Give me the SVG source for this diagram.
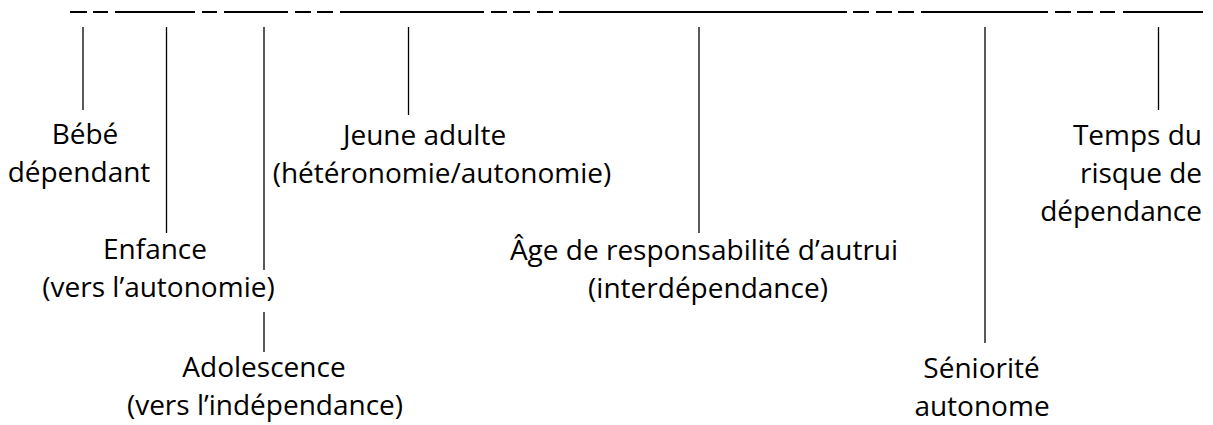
<svg xmlns="http://www.w3.org/2000/svg" width="1213" height="425" viewBox="0 0 1213 425">
<style>
.lbl{font-family:"Open Sans","Noto Sans","Liberation Sans",sans-serif;font-size:28px;fill:#000;text-anchor:middle}
.end{text-anchor:end}
.tick{stroke:#000;stroke-width:1.3;fill:none}
.axis{stroke:#000;stroke-width:2;fill:none}
</style>
<rect width="1213" height="425" fill="#fff"/>
<g id="timeline" class="axis">
<line x1="70" y1="12" x2="87" y2="12"/>
<line x1="93" y1="12" x2="108" y2="12"/>
<line x1="115" y1="12" x2="195" y2="12"/>
<line x1="202" y1="12" x2="217" y2="12"/>
<line x1="224" y1="12" x2="288" y2="12"/>
<line x1="295" y1="12" x2="311" y2="12"/>
<line x1="317" y1="12" x2="333" y2="12"/>
<line x1="340" y1="12" x2="484" y2="12"/>
<line x1="491" y1="12" x2="507" y2="12"/>
<line x1="513" y1="12" x2="530" y2="12"/>
<line x1="537" y1="12" x2="553" y2="12"/>
<line x1="559" y1="12" x2="847" y2="12"/>
<line x1="853" y1="12" x2="869" y2="12"/>
<line x1="876" y1="12" x2="892" y2="12"/>
<line x1="898" y1="12" x2="914" y2="12"/>
<line x1="921" y1="12" x2="1048" y2="12"/>
<line x1="1055" y1="12" x2="1071" y2="12"/>
<line x1="1077" y1="12" x2="1093" y2="12"/>
<line x1="1100" y1="12" x2="1115" y2="12"/>
<line x1="1123" y1="12" x2="1203" y2="12"/>
</g>
<g id="connectors" class="tick">
<line x1="83" y1="27" x2="83" y2="110"/>
<line x1="166.5" y1="27" x2="166.5" y2="233"/>
<line x1="264" y1="27" x2="264" y2="270"/>
<line x1="264" y1="312" x2="264" y2="352"/>
<line x1="408.5" y1="27" x2="408.5" y2="115"/>
<line x1="699" y1="27" x2="699" y2="233"/>
<line x1="985" y1="27" x2="985" y2="343"/>
<line x1="1158.5" y1="27" x2="1158.5" y2="110"/>
</g>
<g id="bebe">
<text class="lbl" x="85" y="144">Bébé</text>
<text class="lbl" x="79" y="182">dépendant</text>
</g>
<g id="enfance">
<text class="lbl" x="155" y="259">Enfance</text>
<text class="lbl" x="158.5" y="297">(vers l’autonomie)</text>
</g>
<g id="adolescence">
<text class="lbl" x="264" y="377">Adolescence</text>
<text class="lbl" x="265" y="415">(vers l’indépendance)</text>
</g>
<g id="jeune-adulte">
<text class="lbl" x="424.5" y="145">Jeune adulte</text>
<text class="lbl" x="442" y="183">(hétéronomie/autonomie)</text>
</g>
<g id="age-responsabilite">
<text class="lbl" x="704" y="260">Âge de responsabilité d’autrui</text>
<text class="lbl" x="708" y="298">(interdépendance)</text>
</g>
<g id="seniorite">
<text class="lbl" x="981.5" y="378">Séniorité</text>
<text class="lbl" x="982" y="416">autonome</text>
</g>
<g id="risque-dependance">
<text class="lbl end" x="1202" y="145">Temps du</text>
<text class="lbl end" x="1202" y="183">risque de</text>
<text class="lbl end" x="1202" y="221">dépendance</text>
</g>
</svg>
